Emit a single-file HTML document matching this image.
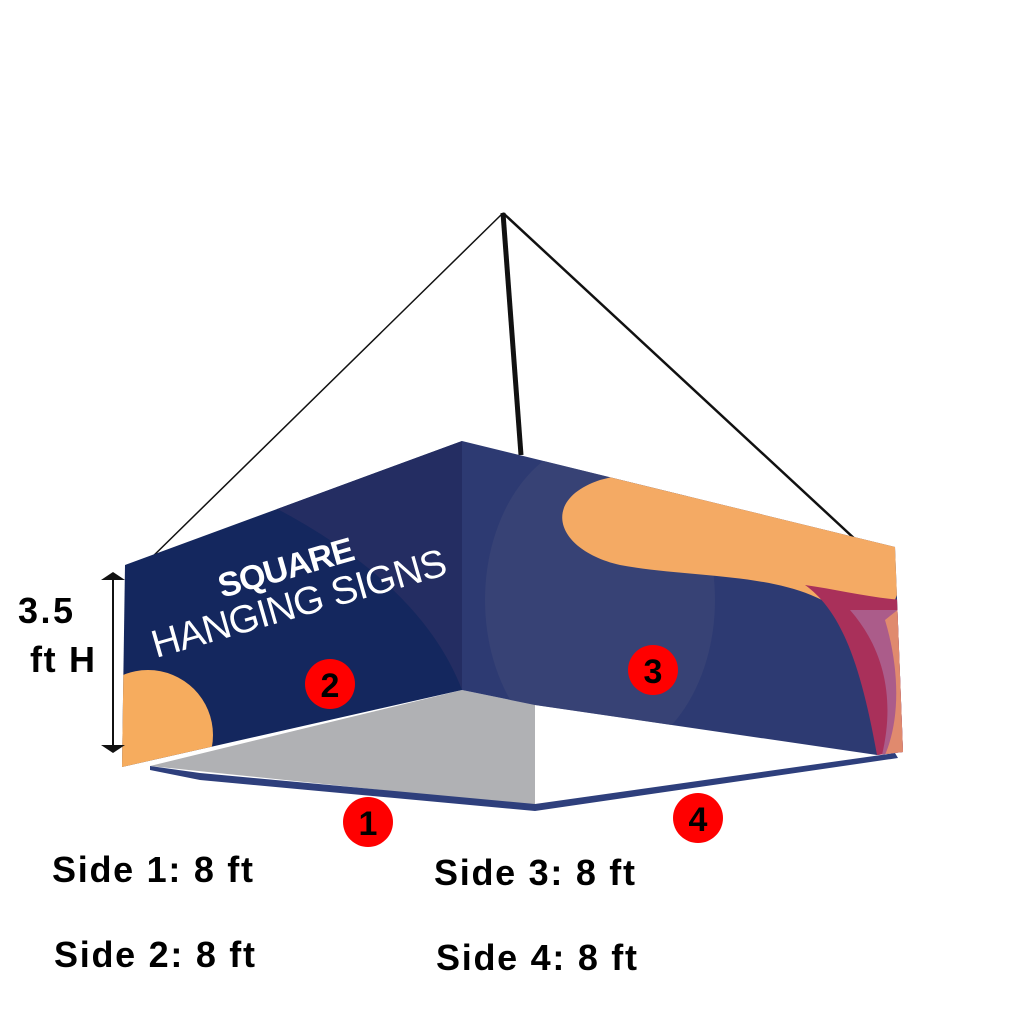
<!DOCTYPE html>
<html><head><style>
html,body{margin:0;padding:0;background:#fff;width:1024px;height:1024px;overflow:hidden}
</style></head><body>
<svg width="1024" height="1024" viewBox="0 0 1024 1024" xmlns="http://www.w3.org/2000/svg">
<defs>
<clipPath id="lp"><polygon points="125,565 462,441 462,690 122,767"/></clipPath>
<clipPath id="rp"><polygon points="462,441 895,547 903,752 877,755 535,705 462,690"/></clipPath>
</defs>
<line x1="503" y1="213" x2="143" y2="566" stroke="#111" stroke-width="1.5"/>
<line x1="503" y1="213" x2="521" y2="455" stroke="#111" stroke-width="5"/>
<line x1="503" y1="213" x2="857" y2="541" stroke="#111" stroke-width="2.5"/>
<polygon points="150,766 462,690 535,705 535,806" fill="#b0b1b4"/>
<polygon points="535,705 877,752 535,806" fill="#fff"/>
<polygon points="150,766 200,773 535,804 895,753 898,758 535,811 200,780 150,770" fill="#2e3f7c"/>
<g clip-path="url(#lp)">
<rect x="100" y="430" width="370" height="350" fill="#14275e"/>
<path d="M260,500 Q420,580 462,690 L462,441 Z" fill="#242d62"/>
<circle cx="148" cy="735" r="65" fill="#f6ac5e"/>
</g>
<g clip-path="url(#rp)">
<rect x="460" y="430" width="450" height="340" fill="#2d3a72"/>
<ellipse cx="600" cy="600" rx="115" ry="160" fill="#3e4878" opacity="0.6"/>
<path d="M600,480 C540,500 555,550 620,565 C700,580 800,570 850,620 L880,640 L910,560 L910,540 L640,470 Z" fill="#f4aa64"/>
<path d="M805,585 C840,610 860,660 877,755 L910,755 L910,600 C880,600 840,590 805,585 Z" fill="#a9305a"/>
<path d="M850,610 C885,650 895,700 882,755 L910,755 L910,610 Z" fill="#ab5c8a"/>
<path d="M885,620 C900,670 900,720 885,755 L910,755 L910,600 Z" fill="#e08a6e"/>
</g>
<line x1="113" y1="577" x2="113" y2="748" stroke="#111" stroke-width="2"/>
<polygon points="101,580 125,580 113,572" fill="#111"/>
<polygon points="101,745 125,745 113,753" fill="#111"/>
<text transform="translate(222,598) rotate(-16)" font-family="Liberation Sans, sans-serif" font-weight="bold" font-size="34" fill="#fff" textLength="140">SQUARE</text>
<text transform="translate(156,658) rotate(-16)" font-family="Liberation Sans, sans-serif" font-size="39" fill="#fff" textLength="305">HANGING SIGNS</text>
<g font-family="Liberation Sans, sans-serif" font-weight="bold" font-size="34" text-anchor="middle" fill="#000">
<circle cx="330" cy="684" r="25" fill="#f00"/><text x="330" y="697">2</text>
<circle cx="653" cy="670" r="25" fill="#f00"/><text x="653" y="683">3</text>
<circle cx="368" cy="822" r="25" fill="#f00"/><text x="368" y="835">1</text>
<circle cx="698" cy="818" r="25" fill="#f00"/><text x="698" y="831">4</text>
</g>
<g font-family="Liberation Sans, sans-serif" font-weight="bold" font-size="36" fill="#000">
<text x="18" y="623" textLength="55">3.5</text>
<text x="30" y="672" textLength="65">ft H</text>
<text x="52" y="882" textLength="201">Side 1: 8 ft</text>
<text x="54" y="967" textLength="201">Side 2: 8 ft</text>
<text x="434" y="885" textLength="201">Side 3: 8 ft</text>
<text x="436" y="970" textLength="201">Side 4: 8 ft</text>
</g>
</svg>
</body></html>
